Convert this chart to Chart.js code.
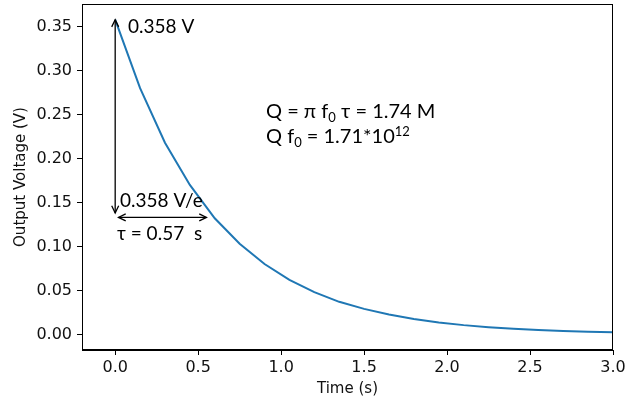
<!DOCTYPE html>
<html>
<head>
<meta charset="utf-8">
<script src="https://cdn.jsdelivr.net/npm/chart.js@4"></script>
<style>
  html, body { margin: 0; padding: 0; background: #fff; }
  #wrap { width: 639px; height: 400px; }
</style>
</head>
<body>
<div id="wrap"><canvas id="decayChart" width="639" height="400"></canvas></div>
<script>
// Ringdown of the output voltage
const timeS = [0, 0.15, 0.3, 0.45, 0.6, 0.75, 0.9, 1.05, 1.2, 1.35, 1.5, 1.65, 1.8, 1.95, 2.1, 2.25, 2.4, 2.55, 2.7, 2.85, 3.0];
const voltV = [0.358, 0.280, 0.218, 0.170, 0.132, 0.103, 0.080, 0.062, 0.048, 0.037, 0.029, 0.0225, 0.0175, 0.0135, 0.0105, 0.0082, 0.0063, 0.0049, 0.0039, 0.0030, 0.0023];
const xTicks = [0.0, 0.5, 1.0, 1.5, 2.0, 2.5, 3.0];
const yTicks = [0.00, 0.05, 0.10, 0.15, 0.20, 0.25, 0.30, 0.35];

const tickFont = { family: 'DejaVu Sans', size: 16 };
const titleFont = { family: 'DejaVu Sans', size: 15 };
const noteFont = '19px Lato';
const qFont = '20px Lato';

function arrowHead(ctx, x, y, ang) {
  const len = 8, spread = 0.45;
  ctx.beginPath();
  ctx.moveTo(x - len * Math.cos(ang - spread), y - len * Math.sin(ang - spread));
  ctx.lineTo(x, y);
  ctx.lineTo(x - len * Math.cos(ang + spread), y - len * Math.sin(ang + spread));
  ctx.stroke();
}

// frame box + the hand-drawn annotations
const notes = {
  id: 'notes',
  afterDraw(chart) {
    const { ctx, chartArea: a, scales: { x, y } } = chart;
    ctx.save();
    ctx.strokeStyle = '#000';
    ctx.lineWidth = 1;
    ctx.strokeRect(a.left + 0.5, a.top + 0.5, a.right - a.left - 1, a.bottom - a.top - 1);

    ctx.lineWidth = 1.3;
    // vertical arrow: 0.358 V down to 0.358 V/e
    const x0 = x.getPixelForValue(0);
    const yTop = y.getPixelForValue(0.358), yBot = y.getPixelForValue(0.138);
    ctx.beginPath(); ctx.moveTo(x0, yTop); ctx.lineTo(x0, yBot); ctx.stroke();
    arrowHead(ctx, x0, yTop, -Math.PI / 2);
    arrowHead(ctx, x0, yBot, Math.PI / 2);
    // horizontal arrow: tau
    const yh = y.getPixelForValue(0.133);
    const xl = x.getPixelForValue(0.02), xr = x.getPixelForValue(0.55);
    ctx.beginPath(); ctx.moveTo(xl, yh); ctx.lineTo(xr, yh); ctx.stroke();
    arrowHead(ctx, xl, yh, Math.PI);
    arrowHead(ctx, xr, yh, 0);

    ctx.fillStyle = '#000';
    ctx.font = noteFont;
    ctx.textBaseline = 'alphabetic';
    ctx.fillText('0.358 V', 128, 33);
    ctx.fillText('0.358 V/e', 120, 207);
    ctx.fillText('τ = 0.57  s', 117, 240);

    // Q = π f0 τ = 1.74 M
    ctx.font = qFont;
    let px = 266, py = 118;
    const sub = (s) => { ctx.font = '13px Lato'; ctx.fillText(s, px, py + 4); px += ctx.measureText(s).width; ctx.font = qFont; };
    const txt = (s) => { ctx.fillText(s, px, py); px += ctx.measureText(s).width; };
    txt('Q = π f'); sub('0'); txt(' τ = 1.74 M');
    px = 266; py = 143;
    txt('Q f'); sub('0'); txt(' = 1.71*10');
    ctx.font = '13px Lato'; ctx.fillText('12', px, py - 7);
    ctx.restore();
  }
};

new Chart(document.getElementById('decayChart'), {
  type: 'line',
  data: {
    datasets: [{
      data: timeS.map((t, i) => ({ x: t, y: voltV[i] })),
      borderColor: '#1f77b4',
      borderWidth: 2,
      pointRadius: 0,
      tension: 0,
      fill: false
    }]
  },
  options: {
    responsive: false,
    animation: false,
    layout: { padding: { top: 4, right: 26, left: 8, bottom: 2 } },
    plugins: { legend: { display: false }, tooltip: { enabled: false } },
    scales: {
      x: {
        type: 'linear', min: -0.2, max: 3.0,
        afterBuildTicks: s => { s.ticks = xTicks.map(v => ({ value: v })); },
        afterFit: s => { s.height = 48; s.paddingLeft = 0; s.paddingRight = 0; },
        grid: { drawOnChartArea: false, tickLength: 5, color: '#000' },
        border: { color: '#000' },
        ticks: { color: '#111', font: tickFont, padding: 3, maxRotation: 0, callback: v => v.toFixed(1) },
        title: { display: true, text: 'Time (s)', color: '#111', font: titleFont, padding: { top: 0, bottom: 0 } }
      },
      y: {
        type: 'linear', min: -0.0178, max: 0.3758,
        afterBuildTicks: s => { s.ticks = yTicks.map(v => ({ value: v })); },
        afterFit: s => { s.width = 74; s.paddingTop = 0; s.paddingBottom = 0; },
        grid: { drawOnChartArea: false, tickLength: 5, color: '#000' },
        border: { color: '#000' },
        ticks: { color: '#111', font: tickFont, padding: 5, callback: v => v.toFixed(2) },
        title: { display: true, text: 'Output Voltage (V)', color: '#111', font: titleFont, padding: { bottom: 0 } }
      }
    }
  },
  plugins: [notes]
});
</script>
</body>
</html>
